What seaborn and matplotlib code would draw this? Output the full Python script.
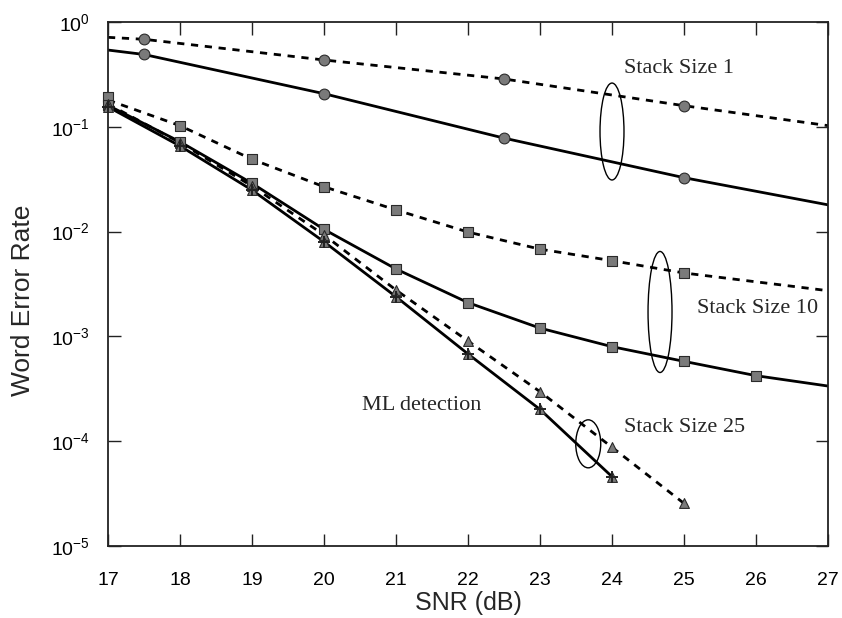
import numpy as np
import pandas as pd
import matplotlib
matplotlib.use("Agg")
import matplotlib.pyplot as plt
import seaborn as sns
from matplotlib.patches import Ellipse

# ---------------- data ----------------
snr_ticks = [17, 18, 19, 20, 21, 22, 23, 24, 25, 26, 27]
ytick_vals = [1e0, 1e-1, 1e-2, 1e-3, 1e-4, 1e-5]

# Stack size 1 (circles)
s1_x = [17.5, 20, 22.5, 25]
s1_dotted = [0.684, 0.434, 0.286, 0.159]
s1_solid = [0.49, 0.207, 0.078, 0.0327]
s1_line_x = [17, 17.5, 20, 22.5, 25, 27]
s1_dotted_line = [0.714, 0.684, 0.434, 0.286, 0.159, 0.1026]
s1_solid_line = [0.54, 0.49, 0.207, 0.078, 0.0327, 0.018]

# Stack size 10 (squares)
s10_dot_x = [17, 18, 19, 20, 21, 22, 23, 24, 25]
s10_dotted = [0.194, 0.1025, 0.049, 0.0268, 0.0161, 0.0099, 0.0068, 0.00528, 0.00403]
s10_dotted_line_x = [17, 18, 19, 20, 21, 22, 23, 24, 25, 27]
s10_dotted_line = [0.18, 0.1025, 0.049, 0.0268, 0.0161, 0.0099, 0.0068, 0.00528, 0.00403, 0.00273]
s10_sol_x = [17, 18, 19, 20, 21, 22, 23, 24, 25, 26]
s10_solid = [0.16, 0.072, 0.0289, 0.0105, 0.0044, 0.0021, 0.0012, 0.000798, 0.000578, 0.000422]
s10_solid_line_x = [17, 18, 19, 20, 21, 22, 23, 24, 25, 26, 27]
s10_solid_line = [0.16, 0.072, 0.0289, 0.0105, 0.0044, 0.0021, 0.0012, 0.000798, 0.000578, 0.000422, 0.000336]

# Stack size 25 (triangles)
s25_dot_x = [17, 18, 19, 20, 21, 22, 23, 24, 25]
s25_dotted = [0.165, 0.0705, 0.0272, 0.0093, 0.00277, 0.000903, 0.000297, 8.75e-5, 2.55e-5]
s25_sol_x = [17, 18, 19, 20, 21, 22, 23, 24]
s25_solid = [0.155, 0.0656, 0.0249, 0.008, 0.00239, 0.00068, 0.000201, 4.59e-5]

# ML detection (+)
ml_x = [17, 18, 19, 20, 21, 22, 23, 24]
ml_vals = [0.155, 0.0656, 0.0249, 0.008, 0.00239, 0.00068, 0.000201, 4.59e-5]

# ---------------- style ----------------
sns.set_style("ticks")
plt.rcParams['font.family'] = ['Liberation Sans', 'DejaVu Sans']
plt.rcParams['mathtext.default'] = 'regular'
plt.rcParams['axes.unicode_minus'] = False

fig = plt.figure(figsize=(8.42, 6.18), dpi=100)
ax = fig.add_axes([108/842, 72/618, 720/842, 524/618])

DOT = (0, (2.6, 2.4))
LW = 2.0
MK_FACE = '#7a7a7a'
MK_EDGE = '#2a2a2a'

def line(x, y, dotted):
    sns.lineplot(x=x, y=y, ax=ax, color='black', lw=LW,
                 linestyle=DOT if dotted else '-', zorder=2, legend=False)

def marks(x, y, m, s=46):
    sns.scatterplot(x=x, y=y, ax=ax, marker=m, s=s, color=MK_FACE,
                    edgecolor=MK_EDGE, linewidth=0.8, zorder=3, legend=False,
                    clip_on=False)

line(s1_line_x, s1_dotted_line, True)
line(s1_line_x, s1_solid_line, False)
line(s10_dotted_line_x, s10_dotted_line, True)
line(s10_solid_line_x, s10_solid_line, False)
line(s25_dot_x, s25_dotted, True)
line(s25_sol_x, s25_solid, False)

marks(s1_x, s1_dotted, 'o', 60)
marks(s1_x, s1_solid, 'o', 60)
marks(s10_dot_x, s10_dotted, 's', 56)
marks(s10_sol_x, s10_solid, 's', 56)
marks(s25_dot_x, s25_dotted, '^', 50)
marks(s25_sol_x, s25_solid, '^', 50)
sns.scatterplot(x=ml_x, y=ml_vals, ax=ax, marker='+', s=75, color='#222222',
                linewidth=1.4, zorder=4, legend=False, clip_on=False)

ax.set_yscale('log')
ax.set_xlim(17, 27)
ax.set_ylim(1e-5, 1e0)
ax.set_xticks(snr_ticks)
ax.set_xticklabels([str(t) for t in snr_ticks])
ax.set_yticks(ytick_vals)
ax.yaxis.set_minor_locator(matplotlib.ticker.NullLocator())

for sp in ax.spines.values():
    sp.set_visible(True)
    sp.set_linewidth(1.3)
    sp.set_color('#222222')

ax.tick_params(axis='both', which='major', direction='in', length=9, width=1.0,
               color='#222222', top=True, right=True, labelsize=14, labelcolor='black')
ax.tick_params(axis='x', pad=19)
ax.tick_params(axis='y', pad=13)

ax.set_xlabel('SNR (dB)', fontsize=18, labelpad=1.5)
ax.set_ylabel('Word Error Rate', fontsize=19)
ax.yaxis.set_label_coords(-0.102, 0.469)

# ellipses (axes fraction coords)
for cx, cy, w, h in [(0.70, 0.791, 0.0333, 0.185),
                     (0.7667, 0.4466, 0.0333, 0.231),
                     (0.667, 0.195, 0.0347, 0.0916)]:
    ax.add_patch(Ellipse((cx, cy), w, h, transform=ax.transAxes, fill=False,
                         edgecolor='black', lw=1.0, zorder=5))

serif = ['Liberation Serif', 'DejaVu Serif']
ax.text(24.17, 0.361, 'Stack Size 1', family=serif, fontsize=16, va='center', ha='left')
ax.text(25.18, 0.00185, 'Stack Size 10', family=serif, fontsize=16, va='center', ha='left')
ax.text(24.17, 1.34e-4, 'Stack Size 25', family=serif, fontsize=16, va='center', ha='left')
ax.text(20.53, 2.2e-4, 'ML detection', family=serif, fontsize=16, va='center', ha='left')

fig.savefig('out.png', dpi=100)
